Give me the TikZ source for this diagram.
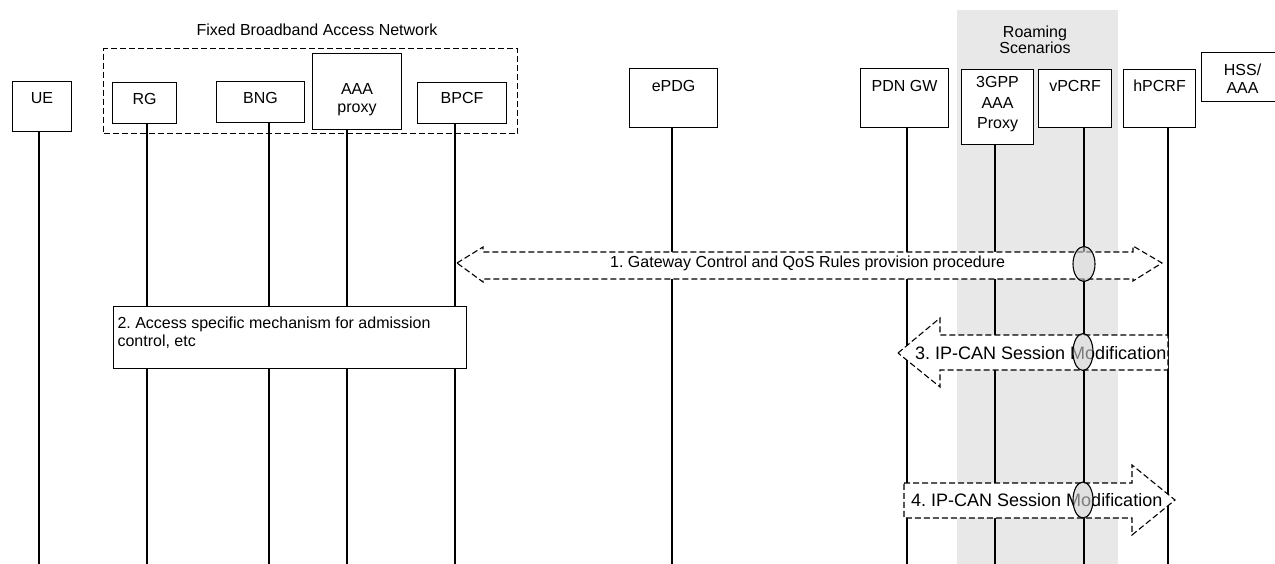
\documentclass[tikz,border=0pt]{standalone}
\usepackage{fontspec}
\setmainfont{Liberation Sans}
\usetikzlibrary{shapes.geometric}
\definecolor{bandgray}{RGB}{232,232,232}
\definecolor{ovalgray}{RGB}{205,205,205}
\frenchspacing
% width, height, first-baseline depth from top, text
\newcommand{\btxt}[4]{\parbox[c][#2][t]{#1}{\centering\rule{0pt}{#3}#4}}
\tikzset{
  ent/.style={draw, fill=white, line width=1.1pt, inner sep=0pt, anchor=north west,
    font=\fontsize{16}{18}\selectfont},
  lbl/.style={inner sep=0pt, align=center, font=\fontsize{16}{16}\selectfont},
  life/.style={line width=1.1pt},
  grp/.style={draw, line width=1.1pt, dash pattern=on 6pt off 3pt, inner sep=0pt, anchor=north west},
  msgarrow/.style={draw, fill=white, line width=1.1pt, dash pattern=on 6pt off 3pt, line join=miter},
  msgtxt/.style={inner sep=0pt, anchor=west, font=\fontsize{16}{18}\selectfont},
  bigtxt/.style={inner sep=0pt, anchor=west, font=\fontsize{18}{20}\selectfont},
  oval/.style={ellipse, draw, fill=ovalgray, fill opacity=0.6, line width=1.1pt, inner sep=0pt},
}
\begin{document}
\begin{tikzpicture}[x=1pt, y=-1pt]
\useasboundingbox (0,0) rectangle (1275,564);
% roaming band
\fill[bandgray] (957,10) rectangle (1118,564);
\node[lbl] (roam) at (1035,40) {Roaming\\Scenarios};
% fixed broadband group
\node[grp, minimum width=414pt, minimum height=85pt] (fbg) at (103,48) {};
\node[lbl] (fbt) at (317,30) {Fixed Broadband Access Network};
% entities
\node[ent] (ue)    at (12,81)   {\btxt{59pt}{50pt}{21.5pt}{UE}};
\node[ent] (rg)    at (112,82)  {\btxt{64pt}{41pt}{21.5pt}{RG}};
\node[ent] (bng)   at (216,81)  {\btxt{88pt}{41pt}{21.5pt}{BNG}};
\node[ent] (aaa)   at (312,53)  {\btxt{89pt}{76pt}{41.3pt}{AAA\\proxy}};
\node[ent] (bpcf)  at (417,82)  {\btxt{89pt}{41pt}{21pt}{BPCF}};
\node[ent] (epdg)  at (629,68)  {\btxt{88pt}{59pt}{22.5pt}{ePDG}};
\node[ent] (pdn)   at (860,68)  {\btxt{88pt}{59pt}{22.5pt}{PDN GW}};
\node[ent, font=\fontsize{16}{20.8}\selectfont] (tgpp) at (961,69) {\btxt{72pt}{75pt}{17.7pt}{3GPP\\AAA\\Proxy}};
\node[ent] (vpcrf) at (1038,69) {\btxt{73pt}{58pt}{22pt}{vPCRF}};
\node[ent] (hpcrf) at (1123,69) {\btxt{72pt}{58pt}{22pt}{hPCRF}};
\node[ent] (hss)   at (1201,52) {\btxt{82pt}{49pt}{22.5pt}{HSS/\\AAA}};
% lifelines
\foreach \n/\x in {ue/39, rg/147, bng/269, aaa/347, bpcf/455, epdg/672, pdn/907, tgpp/995, vpcrf/1084, hpcrf/1168} {
  \coordinate (\n-end) at (\x,564);
  \draw[life] (\n.south -| \n-end) -- (\n-end);
}
% step 2 box
\node[ent, inner xsep=4pt] (acc) at (113,306) {\parbox[c][62pt][t]{345pt}{\raggedright\rule{0pt}{21.5pt}2. Access specific mechanism for admission\\control, etc}};
% message 1
\draw[msgarrow] (457,263) -- (483,247) -- (483,252) -- (1133,252) -- (1133,246) -- (1162,263)
  -- (1133,281) -- (1133,279) -- (483,279) -- (483,282) -- cycle;
\node[msgtxt] (m1) at (610,263) {1. Gateway Control and QoS Rules provision procedure};
\node[oval, minimum width=22pt, minimum height=35pt] (o1) at (1084,264) {};
% message 3
\draw[msgarrow] (898,353) -- (940,318) -- (940,335) -- (1168,335) -- (1168,370) -- (940,370) -- (940,387) -- cycle;
\node[bigtxt] (m3) at (915,353) {3. IP-CAN Session Modification};
\node[oval, minimum width=20pt, minimum height=37pt] (o3) at (1083,352) {};
% message 4
\draw[msgarrow] (904,483) -- (1132,483) -- (1132,465) -- (1175,500) -- (1132,535) -- (1132,518) -- (904,518) -- cycle;
\node[bigtxt] (m4) at (911,500) {4. IP-CAN Session Modification};
\node[oval, minimum width=20pt, minimum height=36pt] (o4) at (1083,500) {};
\end{tikzpicture}
\end{document}
